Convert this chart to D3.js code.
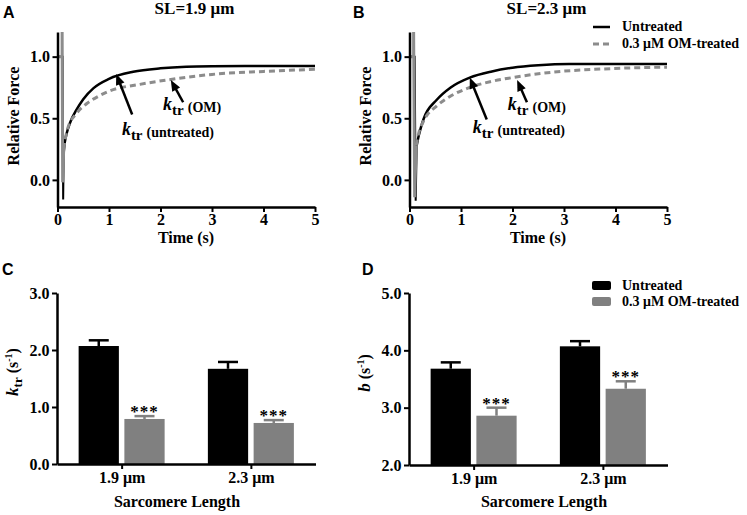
<!DOCTYPE html>
<html>
<head>
<meta charset="utf-8">
<script src="https://cdn.jsdelivr.net/npm/d3@7"></script>
<style>
body { margin: 0; background: #fff; }
text { font-family: "Liberation Serif", "Times New Roman", serif; font-weight: bold; }
.letter { font-family: "Liberation Sans", Arial, sans-serif; font-size: 16px; font-weight: bold; }
</style>
</head>
<body>
<svg id="fig" width="747" height="515"></svg>
<script>
// ---- force redevelopment traces, [time (s), relative force] ----
const untreatedSpike19 = [[0,1.0],[0.1,1.0],[0.11,-0.16],[0.12,0.22]]
const untreated19 = [[0.12,0.22],[0.14,0.3],[0.18,0.38],[0.25,0.47],[0.37,0.57],[0.5,0.655],[0.7,0.745],[1.0,0.82],[1.47,0.877],[2,0.905],[2.5,0.918],[3,0.922],[4,0.924],[5,0.924]]
const omSpike19 = [[0,1.0],[0.09,1.0],[0.09,1.2],[0.1,-0.02],[0.12,0.25]]
const om19 = [[0.12,0.25],[0.15,0.33],[0.2,0.42],[0.37,0.54],[0.57,0.62],[0.8,0.68],[1.0,0.72],[1.6,0.775],[2.2,0.815],[3,0.856],[4,0.88],[5,0.897]]

const untreatedSpike23 = [[0,1.0],[0.1,1.0],[0.12,-0.17],[0.14,0.28]]
const untreated23 = [[0.14,0.28],[0.18,0.36],[0.27,0.49],[0.53,0.65],[0.8,0.75],[1.17,0.83],[1.6,0.88],[2,0.91],[2.5,0.93],[3.1,0.94],[4,0.94],[5,0.94]]
const omSpike23 = [[0,1.0],[0.08,1.0],[0.08,1.2],[0.1,-0.14],[0.13,0.28]]
const om23 = [[0.13,0.28],[0.18,0.38],[0.27,0.475],[0.53,0.6],[0.8,0.68],[1.17,0.75],[1.6,0.8],[2,0.83],[2.8,0.875],[3.75,0.9],[5,0.915]]

// arrow annotations in data units: tail, head, label anchor
const notes19 = [
  {label:"untreated", tail:[1.45,0.53], head:[1.14,0.86], at:[1.25,0.366]},
  {label:"OM", tail:[2.44,0.63], head:[2.2,0.81], at:[2.05,0.57]}
]
const notes23 = [
  {label:"untreated", tail:[1.5,0.49], head:[1.17,0.83], at:[1.23,0.38]},
  {label:"OM", tail:[2.28,0.63], head:[2.09,0.81], at:[1.91,0.57]}
]

// ---- bar panels ----
const lengths = ["1.9 \u03bcm", "2.3 \u03bcm"]
const groups = ["Untreated", "0.3 \u03bcM OM-treated"]
const ktrUntreated = [2.07, 1.67]
const ktrUntreatedErr = [0.1, 0.12]
const ktrOM = [0.79, 0.72]
const ktrOMErr = [0.05, 0.05]
const bUntreated = [3.68, 4.07]
const bUntreatedErr = [0.11, 0.09]
const bOM = [2.86, 3.33]
const bOMErr = [0.14, 0.13]

const forceTicks = [0, 0.5, 1.0]
const timeTicks = [0, 1, 2, 3, 4, 5]
const ktrTicks = [0, 1, 2, 3]
const bTicks = [2, 3, 4, 5]

const GRAY = "#8c8c8c"
const BARGRAY = "#808080"
const svg = d3.select("#fig")

function styleAxis(g, size){
  g.attr("font-family", null).attr("font-size", null)
  g.select(".domain").attr("stroke-width", 2.5)
  g.selectAll(".tick line").attr("stroke-width", 2)
  g.selectAll(".tick text").attr("font-size", size || 16)
}

function arrow(g, x1, y1, x2, y2){
  const dx = x2-x1, dy = y2-y1, len = Math.sqrt(dx*dx+dy*dy)
  const ux = dx/len, uy = dy/len, hl = 11, hw = 4.5
  const bx = x2-ux*hl, by = y2-uy*hl
  g.append("line").attr("x1",x1).attr("y1",y1).attr("x2",bx+ux*2).attr("y2",by+uy*2)
    .attr("stroke","#000").attr("stroke-width",2.5)
  g.append("polygon")
    .attr("points", [[x2,y2],[bx-uy*hw,by+ux*hw],[bx+uy*hw,by-ux*hw]].map(p=>p.join(",")).join(" "))
    .attr("fill","#000")
}

function forcePanel(ox, uSpike, untreated, omSpike, om, notes, title){
  const x = d3.scaleLinear().domain([0,5]).range([ox, ox+257.5])
  const y = d3.scaleLinear().domain([-0.22,1.2]).range([207,32])
  const g = svg.append("g")
  const line = d3.line().x(d=>x(d[0])).y(d=>y(d[1]))
  const smooth = d3.line().x(d=>x(d[0])).y(d=>y(d[1])).curve(d3.curveMonotoneX)

  g.append("path").datum(uSpike).attr("d", line)
    .attr("fill","none").attr("stroke","#000").attr("stroke-width",2)
  g.append("path").datum(untreated).attr("d", smooth)
    .attr("fill","none").attr("stroke","#000").attr("stroke-width",2.5)
  g.append("path").datum(omSpike).attr("d", line)
    .attr("fill","none").attr("stroke",GRAY).attr("stroke-width",3)
  g.append("path").datum(om).attr("d", smooth)
    .attr("fill","none").attr("stroke",GRAY).attr("stroke-width",3)
    .attr("stroke-dasharray","6,4")

  const xa = g.append("g").attr("transform","translate(0,207)")
    .call(d3.axisBottom(x).tickValues(timeTicks).tickFormat(d3.format("d")).tickSize(5).tickSizeOuter(0).tickPadding(2))
  styleAxis(xa)
  const ya = g.append("g").attr("transform",`translate(${ox},0)`)
    .call(d3.axisLeft(y).tickValues(forceTicks).tickFormat(d3.format(".1f")).tickSize(5).tickSizeOuter(0).tickPadding(2.5))
  styleAxis(ya)

  g.append("text").attr("x", ox+128.5).attr("y",243).attr("text-anchor","middle")
    .attr("font-size",16).text("Time (s)")
  g.append("text").attr("transform",`translate(${ox-38.5},116) rotate(-90)`)
    .attr("text-anchor","middle").attr("font-size",16).text("Relative Force")
  g.append("text").attr("x", ox+137).attr("y",14).attr("text-anchor","middle")
    .attr("font-size",17).text(title)

  notes.forEach(n=>{
    arrow(g, x(n.tail[0]), y(n.tail[1]), x(n.head[0]), y(n.head[1]))
    const t = g.append("text").attr("x", x(n.at[0])).attr("y", y(n.at[1]))
    t.append("tspan").attr("font-style","italic").attr("font-size",18).text("k")
    t.append("tspan").attr("font-size",15).attr("dy",5).text("tr")
    t.append("tspan").attr("font-size",14).attr("dy",-3).attr("dx",4).text("("+n.label+")")
  })
}

forcePanel(57.5, untreatedSpike19, untreated19, omSpike19, om19, notes19, "SL=1.9 \u03bcm")
forcePanel(409.5, untreatedSpike23, untreated23, omSpike23, om23, notes23, "SL=2.3 \u03bcm")

// line legend (top right)
const lg = svg.append("g")
lg.append("line").attr("x1",593).attr("x2",610).attr("y1",27).attr("y2",27)
  .attr("stroke","#000").attr("stroke-width",2.5)
lg.append("line").attr("x1",593).attr("x2",610).attr("y1",44).attr("y2",44)
  .attr("stroke",GRAY).attr("stroke-width",3).attr("stroke-dasharray","6,4")
lg.append("text").attr("x",622).attr("y",31).attr("font-size",14).text(groups[0])
lg.append("text").attr("x",622).attr("y",48).attr("font-size",14).text(groups[1])

function barPanel(ox, ys, yr, ticks, vals, errs, ylab){
  const x = d3.scalePoint().domain(lengths).range([ox, ox+258.5]).padding(0.5)
  const xi = d3.scaleBand().domain(groups).range([-43,43]).paddingInner(0.12)
  const y = d3.scaleLinear().domain(yr).range(ys)
  const g = svg.append("g")
  const colors = ["#000", BARGRAY]

  groups.forEach((grp, gi)=>{
    lengths.forEach((len, li)=>{
      const v = vals[gi][li], e = errs[gi][li]
      const cx = x(len) + xi(grp) + xi.bandwidth()/2
      g.append("rect").attr("x", x(len)+xi(grp)).attr("width", xi.bandwidth())
        .attr("y", y(v)).attr("height", y(yr[0])-y(v)).attr("fill", colors[gi])
      g.append("line").attr("x1",cx).attr("x2",cx).attr("y1",y(v)).attr("y2",y(v+e))
        .attr("stroke",colors[gi]).attr("stroke-width",2.5)
      g.append("line").attr("x1",cx-10).attr("x2",cx+10).attr("y1",y(v+e)).attr("y2",y(v+e))
        .attr("stroke",colors[gi]).attr("stroke-width",2.5)
      if(gi===1){
        g.append("text").attr("x",cx).attr("y",y(v+e)+1).attr("text-anchor","middle")
          .attr("font-size",17).attr("font-weight","normal").attr("letter-spacing",1).text("***")
      }
    })
  })

  const xa = g.append("g").attr("transform",`translate(0,${ys[0]})`)
    .call(d3.axisBottom(x).tickSize(5).tickSizeOuter(0).tickPadding(3))
  styleAxis(xa, 16)
  const ya = g.append("g").attr("transform",`translate(${ox},0)`)
    .call(d3.axisLeft(y).tickValues(ticks).tickFormat(d3.format(".1f")).tickSize(5).tickSizeOuter(0).tickPadding(2.5))
  styleAxis(ya)

  g.append("text").attr("x", ox + (ox<200 ? 120 : 135)).attr("y",507).attr("text-anchor","middle")
    .attr("font-size",16).text("Sarcomere Length")

  const t = g.append("text").attr("transform",`translate(${ox-39},${ys[0]-92}) rotate(-90)`)
    .attr("text-anchor","middle")
  t.append("tspan").attr("font-style","italic").attr("font-size",17).text(ylab[0])
  if(ylab[1]) t.append("tspan").attr("font-size",13).attr("dy",4).text(ylab[1])
  t.append("tspan").attr("font-size",16).attr("dy",ylab[1] ? -4 : 0).text(" (s")
  t.append("tspan").attr("font-size",10).attr("dy",-6).text("-1")
  t.append("tspan").attr("font-size",16).attr("dy",6).text(")")
}

barPanel(57, [464,293], [0,3], ktrTicks, [ktrUntreated, ktrOM], [ktrUntreatedErr, ktrOMErr], ["k","tr"])
barPanel(409, [465,293], [2,5], bTicks, [bUntreated, bOM], [bUntreatedErr, bOMErr], ["b",""])

// bar legend (panel D)
const bl = svg.append("g")
bl.append("rect").attr("x",592).attr("y",281).attr("width",19).attr("height",9).attr("rx",2).attr("fill","#000")
bl.append("rect").attr("x",592).attr("y",297).attr("width",19).attr("height",9).attr("rx",2).attr("fill",BARGRAY)
bl.append("text").attr("x",622).attr("y",290).attr("font-size",14).text(groups[0])
bl.append("text").attr("x",622).attr("y",306).attr("font-size",14).text(groups[1])

// panel letters
svg.append("text").attr("class","letter").attr("x",3).attr("y",18).text("A")
svg.append("text").attr("class","letter").attr("x",353).attr("y",18).text("B")
svg.append("text").attr("class","letter").attr("x",2).attr("y",275).text("C")
svg.append("text").attr("class","letter").attr("x",362).attr("y",275).text("D")
</script>
</body>
</html>
